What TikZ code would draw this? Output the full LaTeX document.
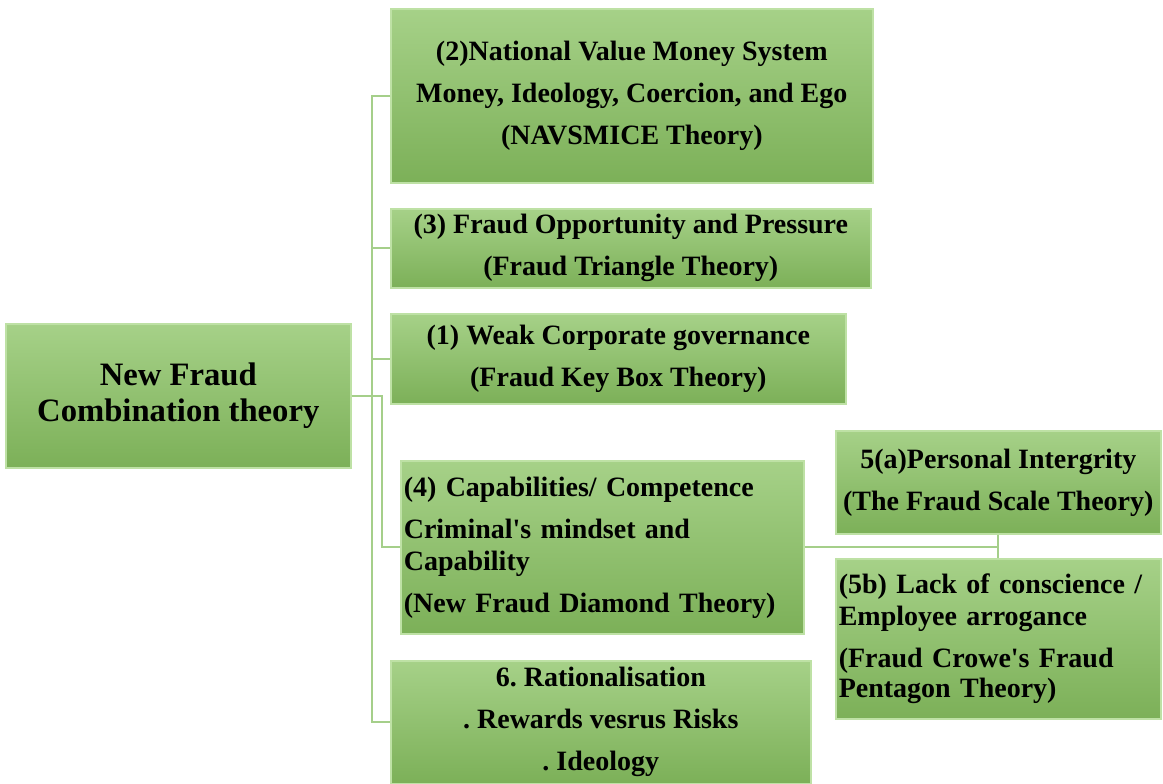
\documentclass[tikz,border=0pt]{standalone}
\usepackage{fontspec}
\setmainfont{Liberation Serif}
\usetikzlibrary{calc}
\definecolor{boxtop}{RGB}{166,209,136}
\definecolor{boxbot}{RGB}{124,176,88}
\definecolor{boxrim}{RGB}{190,225,165}
\definecolor{linkgreen}{RGB}{165,207,138}
\tikzset{
    theory/.style={draw=boxrim, line width=1.2pt, top color=boxtop, bottom color=boxbot,
        anchor=north west, inner sep=2.25pt, font=\fontsize{21}{31.5}\selectfont\bfseries\frenchspacing},
    link/.style={draw=linkgreen, line width=1.5pt}
}
\begin{document}
\begin{tikzpicture}[x=0.75pt,y=-0.75pt]
            \useasboundingbox (0,0) rectangle (1163,783);
            \node[theory, minimum width=258.75pt, minimum height=108pt, align=center, font=\fontsize{24.5}{26.5}\selectfont\bfseries] (root) at (5,323) {New Fraud\\Combination theory};
            \node[theory, minimum width=361.5pt, minimum height=130.5pt, align=center] (nvs) at (390,8) {(2)National Value Money System\\Money, Ideology, Coercion, and Ego\\(NAVSMICE Theory)};
            \node[theory, minimum width=360pt, minimum height=59.25pt, align=center] (tri) at (390,208) {(3) Fraud Opportunity and Pressure\\(Fraud Triangle Theory)};
            \node[theory, minimum width=341.25pt, minimum height=67.5pt, align=center] (keybox) at (390,313) {(1) Weak Corporate governance\\(Fraud Key Box Theory)};
            \node[theory, minimum width=302.25pt, minimum height=129.75pt, text width=297.75pt, align=left] (diamond) at (400,460) {(4) Capabilities/ Competence\\Criminal\textquotesingle s mindset and\\[-7.5pt]Capability\\(New Fraud Diamond Theory)};
            \node[theory, minimum width=243.75pt, minimum height=77.25pt, align=center] (scale) at (835,430) {5(a)Personal Intergrity\\(The Fraud Scale Theory)};
            \node[theory, minimum width=243.75pt, minimum height=120pt, text width=239.25pt, align=left] (pentagon) at (835,558) {(5b) Lack of conscience /\\[-7pt]Employee arrogance\\(Fraud Crowe\textquotesingle s Fraud\\[-9pt]Pentagon Theory)};
            \node[theory, minimum width=315pt, minimum height=92.25pt, align=center] (rational) at (390,660) {6. Rationalisation\\. Rewards vesrus Risks\\. Ideology};
            \coordinate (trunk) at ($(nvs.west)+(-18,0)$);
            \coordinate (elbow) at ($(root.east)+(30,0)$);
            \draw[link] (nvs.west) -- (trunk) |- (rational.west);
            \draw[link] (trunk |- tri.west) -- (tri.west);
            \draw[link] (trunk |- keybox.west) -- (keybox.west);
            \draw[link] (root.east) -- (elbow) |- (diamond.west);
            \draw[link] (diamond.east) -| (scale.south);
            \draw[link] (scale.south) -- (pentagon.north);
\end{tikzpicture}
\end{document}
